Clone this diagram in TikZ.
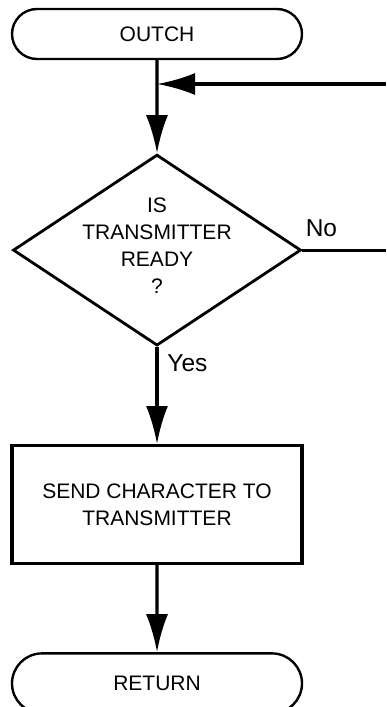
\documentclass[tikz,border=0pt]{standalone}
\usepackage{fontspec}
\setmainfont{Liberation Sans}
\usetikzlibrary{arrows.meta,positioning,shapes.geometric,shapes.misc}

\begin{document}
\begin{tikzpicture}[
  x=0.5pt,y=-0.5pt,
  >={Latex[length=19pt,width=11pt]},
  terminal/.style={draw,rounded rectangle,line width=1.2pt,
    minimum width=145pt,inner sep=0pt,font=\fontsize{10.5}{13.5}\selectfont},
  decision/.style={draw,diamond,line width=1.4pt,inner sep=0pt,
    minimum width=144pt,minimum height=95.5pt},
  process/.style={draw,rectangle,line width=1.6pt,align=center,
    minimum width=145pt,minimum height=59pt,font=\fontsize{10.5}{13.5}\selectfont},
  lbl/.style={inner sep=0pt,font=\fontsize{12.25}{14}\selectfont},
  flow/.style={->,line width=1.6pt},
  plain/.style={line width=1.6pt}
]
\useasboundingbox (0,0) rectangle (386,707);
\node[terminal,minimum height=25pt] (start) at (157,34) {OUTCH};
\node[decision,below=46.5pt of start] (ready) {};
\node[align=center,font=\fontsize{10.5}{13.5}\selectfont,yshift=2pt] (readytext) at (ready)
  {IS\\TRANSMITTER\\READY\\?};
\node[process,below=48.5pt of ready] (send) {SEND CHARACTER TO\\TRANSMITTER};
\node[terminal,minimum height=30pt,below=43.5pt of send] (done) {RETURN};
\node[lbl,above right=6.5pt and 1.5pt of ready.east] (nolbl) {No};
\node[lbl,below right=3.5pt and 5pt of ready.south] (yeslbl) {Yes};
\coordinate (backin) at (386,84);
\coordinate (noout) at (ready.east -| backin);
\draw[flow] (start) -- (ready);
\draw[flow] (backin) -- (backin -| start.south);
\draw[plain] (ready.east) -- (noout);
\draw[flow] (ready) -- (send);
\draw[flow] (send) -- (done);
\end{tikzpicture}
\end{document}
